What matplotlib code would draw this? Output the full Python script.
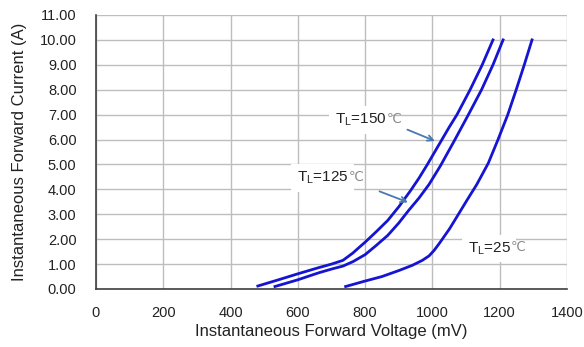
import matplotlib
matplotlib.use("Agg")
import matplotlib.pyplot as plt

plt.rcParams['font.family'] = ['Liberation Sans', 'DejaVu Sans', 'Noto Sans CJK SC']
plt.rcParams['mathtext.fontset'] = 'custom'
plt.rcParams['mathtext.rm'] = 'Liberation Sans'
plt.rcParams['mathtext.it'] = 'Liberation Sans'

# Data (voltage mV, current A)
v150 = [481, 540, 600, 660, 700, 734, 764, 783, 800, 833, 867, 900, 935, 960, 985, 1024, 1050, 1073, 1112, 1148, 1180]
i150 = [0.12, 0.36, 0.61, 0.85, 1.0, 1.15, 1.45, 1.68, 1.88, 2.3, 2.75, 3.3, 3.95, 4.45, 5.0, 5.9, 6.5, 7.0, 8.0, 9.0, 10.0]
v125 = [532, 600, 662, 700, 734, 764, 800, 833, 867, 900, 929, 960, 990, 1024, 1063, 1107, 1146, 1180, 1210]
i125 = [0.10, 0.37, 0.65, 0.8, 0.92, 1.1, 1.38, 1.75, 2.15, 2.65, 3.15, 3.65, 4.2, 4.95, 5.9, 7.0, 8.0, 9.0, 10.0]
v25 = [742, 800, 850, 902, 940, 970, 990, 1005, 1021, 1051, 1075, 1102, 1132, 1166, 1195, 1224, 1249, 1273, 1296]
i25 = [0.10, 0.32, 0.5, 0.75, 0.95, 1.15, 1.33, 1.55, 1.84, 2.42, 2.95, 3.55, 4.2, 5.05, 6.0, 7.0, 8.0, 9.0, 10.0]

xticks = [0, 200, 400, 600, 800, 1000, 1200, 1400]
yticks = [0, 1, 2, 3, 4, 5, 6, 7, 8, 9, 10, 11]

fig = plt.figure(figsize=(5.84, 3.47), dpi=100)
ax = fig.add_axes([96/584, 1-289/347, (567-96)/584, (289-15)/347])

line_color = '#1414d2'
for v, i in [(v150, i150), (v125, i125), (v25, i25)]:
    ax.plot(v, i, color=line_color, lw=2.0, solid_joinstyle='round', zorder=3)

ax.set_xlim(0, 1400)
ax.set_ylim(0, 11)
ax.set_xticks(xticks)
ax.set_yticks(yticks)
ax.set_yticklabels([f"{t:.2f}" for t in yticks])
ax.grid(True, color='#bdbdbd', lw=1.0, zorder=0)
ax.set_axisbelow(True)
for s in ['top', 'right']:
    ax.spines[s].set_visible(False)
for s in ['left', 'bottom']:
    ax.spines[s].set_color('#404040')
    ax.spines[s].set_linewidth(1.2)
ax.tick_params(length=0, labelsize=10.5, colors='#222222')
ax.tick_params(axis='y', pad=14)
ax.tick_params(axis='x', pad=12)
ax.set_xlabel('Instantaneous Forward Voltage (mV)', fontsize=12, color='#222222', labelpad=3)
ax.set_ylabel('Instantaneous Forward Current (A)', fontsize=12, color='#222222', labelpad=9)

bbox = dict(facecolor='white', edgecolor='none', pad=4)
labels = [(710, 6.78, '150'), (597, 4.45, '125'), (1105, 1.63, '25')]
for x, y, t in labels:
    txt = ax.text(x, y, r'T$_{\mathrm{L}}$=' + t, fontsize=11, va='center', ha='left',
                  color='#222222', bbox=bbox, zorder=4)
    ax.annotate('℃', xy=(1.0, 0.5), xycoords=txt, xytext=(0, 0), textcoords='offset points',
                fontsize=9.5, va='center', ha='left', color='#8a8a8a', zorder=5)

arrow_color = '#4a78b0'
ax.annotate('', xy=(1015, 5.9), xytext=(918, 6.44),
            arrowprops=dict(arrowstyle='->', color=arrow_color, lw=1.3), zorder=4)
ax.annotate('', xy=(935, 3.44), xytext=(835, 3.96),
            arrowprops=dict(arrowstyle='->', color=arrow_color, lw=1.3), zorder=4)

fig.savefig('out.png', dpi=100)
